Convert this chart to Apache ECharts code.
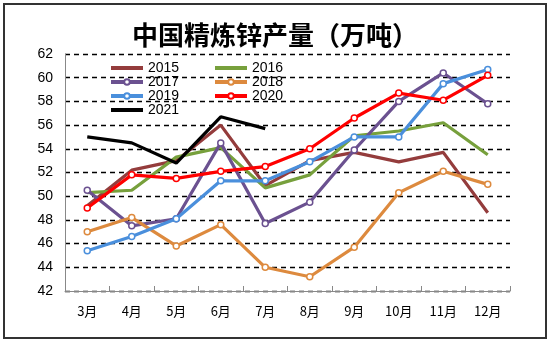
<!DOCTYPE html>
<html><head><meta charset="utf-8">
<script src="https://cdn.jsdelivr.net/npm/echarts@6/dist/echarts.min.js"></script>
<style>html,body{margin:0;padding:0;background:#fff}#c{width:550px;height:342px}</style>
</head><body><div id="c"></div>
<script>
var categories = ['3月','4月','5月','6月','7月','8月','9月','10月','11月','12月'];
var s2015 = [49.2, 52.2, 53.0, 56.0, 50.9, 53.0, 53.7, 52.9, 53.7, 48.6];
var s2016 = [50.3, 50.5, 53.3, 54.1, 50.7, 51.8, 55.1, 55.5, 56.2, 53.5];
var s2017 = [50.5, 47.5, 48.1, 54.5, 47.7, 49.5, 53.9, 58.0, 60.4, 57.8];
var s2018 = [47.0, 48.2, 45.8, 47.6, 44.0, 43.2, 45.7, 50.3, 52.1, 51.0];
var s2019 = [45.4, 46.6, 48.1, 51.3, 51.3, 52.9, 55.0, 55.0, 59.5, 60.7];
var s2020 = [49.0, 51.8, 51.5, 52.1, 52.5, 54.0, 56.6, 58.7, 58.1, 60.2];
var s2021 = [55.0, 54.5, 52.8, 56.7, 55.7];
var yTicks = [42, 44, 46, 48, 50, 52, 54, 56, 58, 60, 62];

var colors = { '2015': '#943c3c', '2016': '#77a03c', '2017': '#6b5190', '2018': '#dd8a3e',
  '2019': '#4a8fdc', '2020': '#ff0000', '2021': '#000000' };

var chart = echarts.init(document.getElementById('c'));
function mk(name, data, marker, z) {
  var color = colors[name];
  return {
    name: name, type: 'line', data: data, z: z,
    symbol: marker ? 'circle' : 'none', symbolSize: 6, showSymbol: marker,
    lineStyle: { color: color, width: 3.2 },
    itemStyle: { color: '#fff', borderColor: color, borderWidth: 1.5 },
    color: color
  };
}
function plainItem(name) {
  return { name: name, icon: 'path://M0,0h32v4h-32z',
    itemStyle: { color: colors[name], borderWidth: 0 } };
}
var legendText = { fontSize: 14, fontFamily: 'Liberation Sans, Arial', color: '#000', lineHeight: 14 };
chart.setOption({
  animation: false,
  backgroundColor: '#fff',
  title: {
    text: '中国精炼锌产量（万吨）', left: 'center', top: 17,
    textStyle: { fontSize: 26, fontWeight: 'bold', fontFamily: 'Noto Sans CJK SC', color: '#000' }
  },
  graphic: [{
    type: 'rect', shape: { x: 4, y: 4, width: 542, height: 334 },
    style: { fill: 'none', stroke: '#333', lineWidth: 2 }, silent: true
  }],
  legend: [{
    data: [plainItem('2015'), '2017', '2019', plainItem('2021')],
    orient: 'vertical', left: 104, top: 56,
    itemWidth: 32, itemHeight: 7, itemGap: 0, textStyle: legendText,
    lineStyle: { width: 4 }
  }, {
    data: [plainItem('2016'), '2018', '2020'],
    orient: 'vertical', left: 208, top: 56,
    itemWidth: 32, itemHeight: 7, itemGap: 0, textStyle: legendText,
    lineStyle: { width: 4 }
  }],
  grid: { left: 65, right: 40, top: 54, bottom: 51 },
  xAxis: {
    type: 'category', data: categories, boundaryGap: true,
    axisLine: { lineStyle: { color: '#888', width: 1 } },
    axisTick: { show: true, inside: true, length: 5, lineStyle: { color: '#888' } },
    axisLabel: { margin: 14, fontSize: 13, color: '#000', fontFamily: 'Noto Sans CJK SC' }
  },
  yAxis: {
    type: 'value', min: yTicks[0], max: yTicks[yTicks.length - 1], interval: 2,
    axisLine: { show: true, lineStyle: { color: '#888', width: 1 } },
    axisTick: { show: false },
    axisLabel: { margin: 12, fontSize: 14, color: '#000', fontFamily: 'Liberation Sans, Arial' },
    splitLine: { lineStyle: { color: '#000', type: [5, 4], width: 1.3 } }
  },
  series: [
    mk('2015', s2015, false, 2),
    mk('2016', s2016, false, 2),
    mk('2017', s2017, true, 3),
    mk('2018', s2018, true, 3),
    mk('2019', s2019, true, 4),
    mk('2020', s2020, true, 5),
    mk('2021', s2021, false, 6)
  ]
});
</script></body></html>
